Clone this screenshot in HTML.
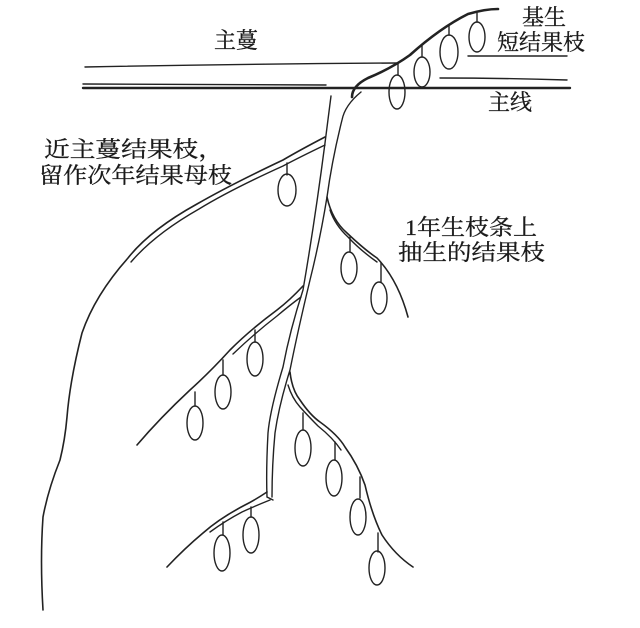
<!DOCTYPE html>
<html><head><meta charset="utf-8"><style>
html,body{margin:0;padding:0;background:#fff;width:640px;height:628px;overflow:hidden}
text{font-family:"Liberation Serif","Noto Serif CJK SC",serif;font-size:22px;fill:#1a1a1a;stroke:#1a1a1a;stroke-width:0.3}
</style></head><body>
<svg width="640" height="628" viewBox="0 0 640 628" xmlns="http://www.w3.org/2000/svg">
<g fill="none" stroke="#222" stroke-linecap="round" stroke-width="1.4">
<path d="M85 67 Q240 64 398 63"/>
<path d="M83 84 Q200 84 326 85"/>
<path d="M83 88 L570 88" stroke-width="2.4"/>
<path d="M468 56 L567 56"/>
<path d="M440 78 Q500 78 567 80"/>
<path d="M352 97 Q352 86 368 78 Q392 68 410 55 Q440 28 468 14 Q485 9 498 9" stroke-width="2.6"/>
<path d="M477 13 V22 M449 26 V35 M422 46 V57 M398 64 V75"/>
<ellipse cx="477" cy="37" rx="8" ry="15"/>
<ellipse cx="449" cy="52" rx="9" ry="17"/>
<ellipse cx="422" cy="72" rx="8" ry="15"/>
<ellipse cx="397" cy="92" rx="8" ry="17"/>
<path d="M331 96 Q328 120 325 143 Q315 220 303 290 Q290 330 283 367 Q270 410 268 433 Q266 470 267 497 L273 500"/>
<path d="M361 92 Q345 105 342 120 Q332 160 327 197 Q320 240 310 280 Q298 330 290 370 Q279 405 275 433 Q272 465 272 497"/>
<path d="M325 137 Q300 150 283 160 Q230 185 197 204 Q150 230 128 258 Q95 295 82 333 Q70 380 67 417 Q65 440 60 460 Q48 490 43 517 Q40 560 43 610" stroke-width="1.6"/>
<path d="M325 145 Q300 157 283 166 Q230 190 199 209 Q155 234 131 262"/>
<path d="M287 163 V175"/><ellipse cx="287" cy="190" rx="9" ry="16"/>
<path d="M327 197 Q332 220 347 233 Q365 250 377 258 Q398 280 408 317" stroke-width="1.6"/>
<path d="M330 210 Q335 225 348 237 Q360 250 377 262"/>
<path d="M350 237 V252 M381 263 V282"/>
<ellipse cx="349" cy="268" rx="8" ry="16"/>
<ellipse cx="379" cy="298" rx="8" ry="16"/>
<path d="M303 286 Q290 300 277 310 Q250 330 230 350 Q210 372 190 390 Q160 418 137 445" stroke-width="1.6"/>
<path d="M301 297 Q290 305 277 316 Q255 333 233 354"/>
<path d="M255 330 V342 M223 360 V375 M195 392 V406"/>
<ellipse cx="255" cy="359" rx="8" ry="17"/>
<ellipse cx="223" cy="392" rx="8" ry="17"/>
<ellipse cx="195" cy="423" rx="8" ry="17"/>
<path d="M290 372 Q292 390 300 400 Q310 415 320 422 Q338 435 345 447 Q358 465 365 485 Q372 515 382 535 Q395 555 413 567" stroke-width="1.6"/>
<path d="M288 385 Q292 398 300 407 Q310 418 318 426 Q333 438 341 450"/>
<path d="M303 413 V430 M335 442 V460 M360 477 V498 M378 533 V552"/>
<ellipse cx="303" cy="448" rx="8" ry="18"/>
<ellipse cx="334" cy="478" rx="8" ry="18"/>
<ellipse cx="358" cy="517" rx="8" ry="18"/>
<ellipse cx="377" cy="568" rx="8" ry="17"/>
<path d="M267 492 Q255 500 245 505 Q220 518 203 533 Q185 548 167 567" stroke-width="1.6"/>
<path d="M270 500 Q255 506 242 512 Q225 521 210 532"/>
<path d="M251 507 V517 M223 522 V535"/>
<ellipse cx="251" cy="535" rx="8" ry="18"/>
<ellipse cx="222" cy="553" rx="8" ry="18"/>
</g>
<text x="214" y="48">主蔓</text>
<text x="522" y="25">基生</text>
<text x="497" y="50">短结果枝</text>
<text x="488" y="110">主线</text>
<text x="44" y="157" textLength="180" lengthAdjust="spacingAndGlyphs">近主蔓结果枝，</text>
<text x="39" y="183" textLength="193" lengthAdjust="spacingAndGlyphs">留作次年结果母枝</text>
<text x="405" y="235" textLength="132" lengthAdjust="spacingAndGlyphs">1年生枝条上</text>
<text x="398" y="260" textLength="147" lengthAdjust="spacingAndGlyphs">抽生的结果枝</text>
</svg>
</body></html>
